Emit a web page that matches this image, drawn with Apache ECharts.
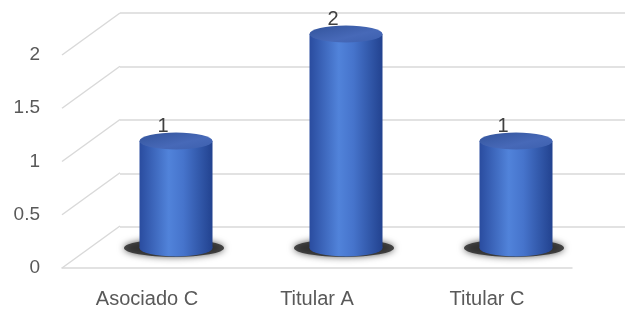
<!DOCTYPE html>
<html>
<head>
<meta charset="utf-8">
<script src="https://cdn.jsdelivr.net/npm/echarts@6/dist/echarts.min.js"></script>
<style>
  html, body { margin: 0; padding: 0; background: #fff; }
  #chart { width: 625px; height: 309px; }
</style>
</head>
<body>
<div id="chart"></div>
<script>
const categories = ['Asociado C', 'Titular A', 'Titular C']
const values = [1, 2, 1]
const levels = [0, 0.5, 1, 1.5, 2]

// perspective depth of the 3d box (front -> back)
const DX = 58, DY = 42
const front = { left: 62, right: 53, top: 55, bottom: 40 }
const shift = (g, k) => ({ left: g.left + DX * k, right: g.right - DX * k, top: g.top - DY * k, bottom: g.bottom + DY * k })
const mid = shift(front, 0.5)
const back = shift(front, 1)

const font = 'Liberation Sans'
const grey = '#595959'
const lineCol = '#d9d9d9'

const bodyColor = {
  type: 'linear', x: 0, y: 0, x2: 1, y2: 0,
  colorStops: [
    { offset: 0, color: '#2a4c9f' },
    { offset: 0.4, color: '#5183da' },
    { offset: 0.6, color: '#4674cc' },
    { offset: 1, color: '#22428f' }
  ]
}
const capColor = {
  type: 'linear', x: 0, y: 0, x2: 1, y2: 1,
  colorStops: [
    { offset: 0, color: '#32539b' },
    { offset: 0.6, color: '#4769b8' },
    { offset: 1, color: '#3c5fae' }
  ]
}

const chart = echarts.init(document.getElementById('chart'))
const valAxis = (i, show) => ({
  type: 'value', gridIndex: i, min: 0, max: 2, interval: 0.5,
  axisLine: { show: false }, axisTick: { show: false },
  axisLabel: { show: show, color: grey, fontFamily: font, fontSize: 19, margin: 22 },
  splitLine: { show: i === 2, lineStyle: { color: lineCol, width: 1.5 } }
})
const catAxis = (i, show) => ({
  type: 'category', gridIndex: i, data: categories,
  axisTick: { show: false },
  axisLine: { show: show, lineStyle: { color: lineCol, width: 1.5 } },
  axisLabel: { show: show, color: grey, fontFamily: font, fontSize: 20, margin: 21 }
})

chart.setOption({
  animation: false,
  grid: [front, mid, back],
  xAxis: [catAxis(0, true), catAxis(1, false), catAxis(2, false)],
  yAxis: [valAxis(0, true), valAxis(1, false), valAxis(2, false)],
  series: [
    {
      // diagonal side-wall gridlines
      type: 'custom', xAxisIndex: 0, yAxisIndex: 0, z: 0,
      data: levels.map(v => [0, v]),
      renderItem: (params, api) => {
        const x = params.coordSys.x
        const y = api.coord([0, api.value(1)])[1]
        return {
          type: 'line',
          shape: { x1: x, y1: y, x2: x + DX, y2: y - DY },
          style: { stroke: lineCol, lineWidth: 1.5 }
        }
      }
    },
    {
      // soft floor shadow
      type: 'pictorialBar', xAxisIndex: 1, yAxisIndex: 1, z: 1,
      symbol: 'circle', symbolSize: [100, 18], symbolOffset: [-2, '50%'], symbolPosition: 'start',
      itemStyle: { color: 'rgba(35,35,35,0.8)', shadowBlur: 7, shadowColor: 'rgba(0,0,0,0.8)' },
      data: values
    },
    {
      type: 'pictorialBar', xAxisIndex: 1, yAxisIndex: 1, z: 2,
      symbol: 'circle', symbolSize: [73, 17], symbolOffset: [0, '50%'], symbolPosition: 'start',
      itemStyle: { color: bodyColor },
      data: values
    },
    {
      type: 'bar', xAxisIndex: 1, yAxisIndex: 1, z: 3,
      barWidth: 73,
      itemStyle: { color: bodyColor },
      label: { show: true, position: 'top', distance: 5, offset: [-13, 0], color: '#404040', fontFamily: font, fontSize: 20 },
      data: values
    },
    {
      type: 'pictorialBar', xAxisIndex: 1, yAxisIndex: 1, z: 4,
      symbol: 'circle', symbolSize: [73, 17], symbolOffset: [0, '-50%'], symbolPosition: 'end',
      itemStyle: { color: capColor },
      data: values
    }
  ]
})
</script>
</body>
</html>
